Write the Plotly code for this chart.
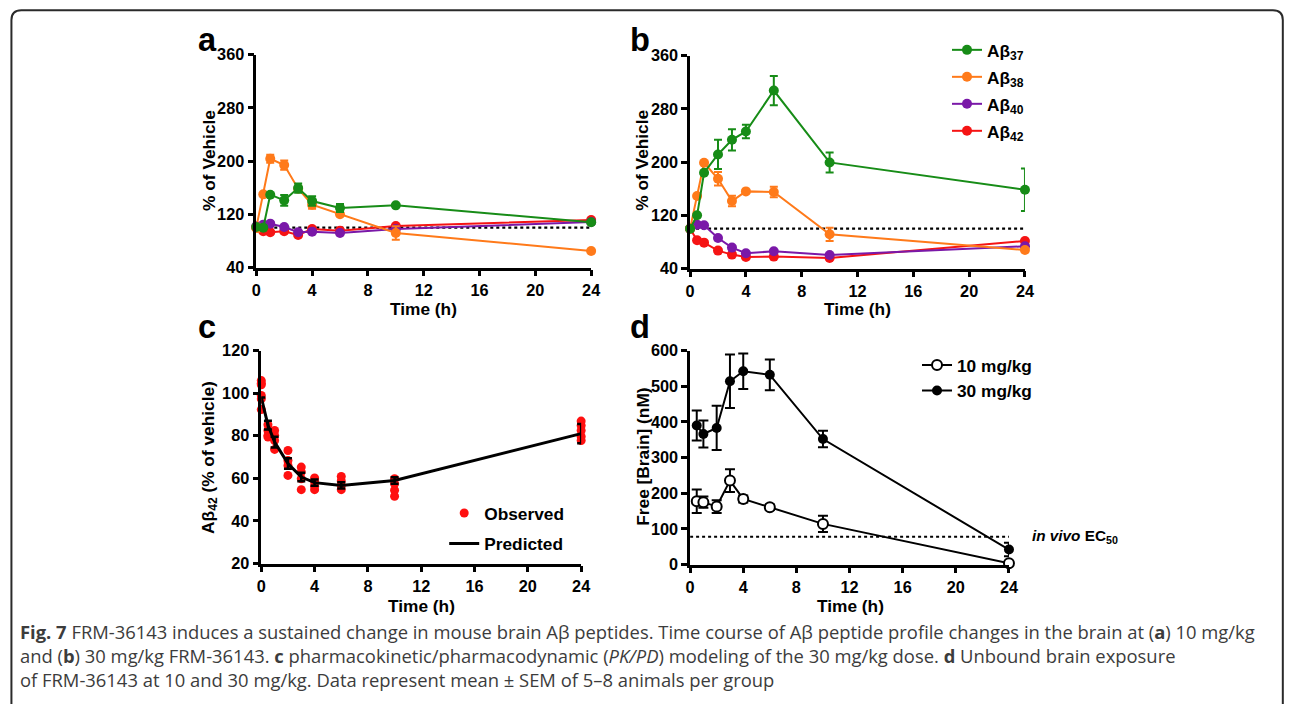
import plotly.graph_objects as go

W, H = 1293, 704

# ---------------- data ----------------
TIME = [0, 0.5, 1, 2, 3, 4, 6, 10, 24]
VEHICLE_LEVEL = 100

# Panel a: 10 mg/kg (% of vehicle)
A_AB37 = [101, 100, 149.5, 141, 159.5, 140, 129.5, 133.5, 108]
A_AB37_ERR = [0, 0, 0, 8, 7, 7, 6, 0, 0]
A_AB38 = [100, 150, 203.5, 194, 158.5, 134.5, 120, 92, 65]
A_AB38_ERR = [6, 0, 6, 7, 0, 6, 0, 10, 0]
A_AB40 = [102, 104.5, 106, 101, 93, 94, 92, 98, 108.5]
A_AB40_ERR = [0, 0, 0, 0, 0, 0, 0, 0, 0]
A_AB42 = [100, 94.5, 93, 94.5, 89, 98, 95.5, 102.5, 111.5]
A_AB42_ERR = [0, 0, 0, 0, 0, 0, 0, 0, 0]

# Panel b: 30 mg/kg (% of vehicle)
B_AB37 = [100, 120, 184, 211.5, 233.5, 246, 307.5, 199.5, 158.5]
B_AB37_ERR = [0, 0, 0, 22, 16, 10, 22, 15, 32]
B_AB38 = [100, 149, 199, 175, 141.5, 156, 155, 91.5, 68]
B_AB38_ERR = [0, 0, 0, 10, 8, 0, 8, 10, 0]
B_AB40 = [100, 106, 105, 86, 71.5, 63, 66, 60.5, 73.5]
B_AB40_ERR = [0, 0, 0, 0, 0, 0, 0, 0, 0]
B_AB42 = [100, 82.5, 79, 67, 61, 57.5, 58, 56, 81.5]
B_AB42_ERR = [0, 0, 0, 0, 0, 0, 0, 0, 0]

# Panel c: PK/PD modelling, individual observations
C_OBS_T = ([0] * 6 + [0.5] * 4 + [1] * 4 + [2] * 4 + [3] * 4 + [4] * 4 +
           [6] * 4 + [10] * 4 + [24] * 5)
C_OBS_V = [105.9, 104.7, 103.9, 98.9, 97.3, 92.3,
           85.2, 82.5, 80.2, 79.4,
           82.5, 80.2, 77.8, 73.6,
           73.1, 68.4, 66.1, 61.4,
           65.3, 63.0, 59.8, 54.7,
           60.2, 58.3, 56.3, 54.7,
           60.9, 58.8, 56.7, 54.7,
           59.8, 57.5, 54.4, 51.6,
           86.9, 84.8, 82.5, 79.7, 77.8]
C_PRED = [98, 85, 77, 67, 60.6, 58, 56.7, 59, 81]
C_PRED_ERR = [0, 2, 2.5, 2.5, 2, 1.5, 1.5, 1.5, 4.5]

# Panel d: free brain concentration (nM)
D_TIME = [0.5, 1, 2, 3, 4, 6, 10, 24]
D_10 = [177.6, 175, 162.6, 235.5, 184, 160.7, 114, 3.7]
D_10_ERR = [33, 16, 18, 32, 10, 8, 23, 3]
D_30 = [389.7, 366, 383, 514, 542, 532, 352, 42]
D_30_ERR = [42, 38, 62, 75, 50, 43, 23, 19]
EC50 = 78

COL37, COL38, COL40, COL42 = "#178c17", "#ff7a1a", "#7a18a8", "#f51414"
FONT = "Liberation Sans, Arial, sans-serif"

# mapping from target pixel positions to figure paper coordinates
AX, BX = 0.9896, 2.6
AY, BY = 0.9745, 8.4
FS = 1 / 0.982


def px(x):
    return ((x - BX) / AX) / W


def py(y):
    return 1 - ((y - BY) / AY) / H


def fs(s):
    return round(s * FS, 1)


fig = go.Figure()

series_ab = [
    ("Aβ<sub>42</sub>", COL42, 4, A_AB42, A_AB42_ERR, B_AB42, B_AB42_ERR),
    ("Aβ<sub>40</sub>", COL40, 3, A_AB40, A_AB40_ERR, B_AB40, B_AB40_ERR),
    ("Aβ<sub>38</sub>", COL38, 2, A_AB38, A_AB38_ERR, B_AB38, B_AB38_ERR),
    ("Aβ<sub>37</sub>", COL37, 1, A_AB37, A_AB37_ERR, B_AB37, B_AB37_ERR),
]

# reference lines (vehicle = 100 %)
for xa, ya in (("x", "y"), ("x2", "y2")):
    fig.add_trace(go.Scatter(x=[TIME[0], TIME[-1]], y=[VEHICLE_LEVEL] * 2,
                             mode="lines", xaxis=xa, yaxis=ya, showlegend=False,
                             line=dict(color="black", width=2.2, dash="dot"),
                             hoverinfo="skip"))

for name, col, rank, ya_v, ya_e, yb_v, yb_e in series_ab:
    fig.add_trace(go.Scatter(
        x=TIME, y=ya_v, mode="lines+markers", xaxis="x", yaxis="y",
        showlegend=False, cliponaxis=False, name=name,
        line=dict(color=col, width=2), marker=dict(color=col, size=10),
        error_y=dict(type="data", array=ya_e, color=col, thickness=2, width=4)))
    fig.add_trace(go.Scatter(
        x=TIME, y=yb_v, mode="lines+markers", xaxis="x2", yaxis="y2",
        showlegend=True, legend="legend", legendgroup=name, legendrank=rank,
        cliponaxis=False, name=name,
        line=dict(color=col, width=2), marker=dict(color=col, size=10),
        error_y=dict(type="data", array=yb_e, color=col, thickness=2, width=4)))

# panel c
fig.add_trace(go.Scatter(
    x=C_OBS_T, y=C_OBS_V, mode="markers", xaxis="x3", yaxis="y3",
    name="Observed", legend="legend2", legendgroup="obs", cliponaxis=False,
    marker=dict(color="#ff1010", size=9)))
fig.add_trace(go.Scatter(
    x=TIME, y=C_PRED, mode="lines", xaxis="x3", yaxis="y3",
    name="Predicted", legend="legend2", legendgroup="pred", cliponaxis=False,
    line=dict(color="black", width=3),
    error_y=dict(type="data", array=C_PRED_ERR, color="black", thickness=2.5, width=4)))

# panel d
fig.add_trace(go.Scatter(
    x=[0, 24], y=[EC50, EC50], mode="lines", xaxis="x4", yaxis="y4",
    showlegend=False, line=dict(color="black", width=2, dash="dot"), hoverinfo="skip"))
fig.add_trace(go.Scatter(
    x=D_TIME, y=D_10, mode="lines+markers", xaxis="x4", yaxis="y4",
    name="10 mg/kg", legend="legend3", cliponaxis=False,
    line=dict(color="black", width=2),
    marker=dict(color="white", size=10, line=dict(color="black", width=2)),
    error_y=dict(type="data", array=D_10_ERR, color="black", thickness=2, width=5)))
fig.add_trace(go.Scatter(
    x=D_TIME, y=D_30, mode="lines+markers", xaxis="x4", yaxis="y4",
    name="30 mg/kg", legend="legend3", cliponaxis=False,
    line=dict(color="black", width=2),
    marker=dict(color="black", size=10),
    error_y=dict(type="data", array=D_30_ERR, color="black", thickness=2, width=5)))

tickfont = dict(family=FONT, size=fs(16), color="black", weight="bold")


def xaxis(dom, anchor):
    return dict(domain=dom, anchor=anchor, range=[0, 24], tickvals=[0, 4, 8, 12, 16, 20, 24],
                showline=True, linecolor="black", linewidth=2.5, ticks="outside",
                ticklen=6, tickwidth=2.5, tickcolor="black", showgrid=False,
                zeroline=False, tickfont=tickfont)


def yaxis(dom, anchor, rng, vals):
    return dict(domain=dom, anchor=anchor, range=rng, tickvals=vals,
                showline=True, linecolor="black", linewidth=2.5, ticks="outside",
                ticklen=6, tickwidth=2.5, tickcolor="black", showgrid=False,
                zeroline=False, tickfont=tickfont)


legfont = dict(family=FONT, size=fs(17), color="black", weight="bold")
fig.update_layout(
    width=W, height=H, margin=dict(l=0, r=0, t=0, b=0),
    paper_bgcolor="white", plot_bgcolor="white",
    font=dict(family=FONT, color="black"),
    xaxis=xaxis([px(254), px(589)], "y"),
    yaxis=yaxis([py(267), py(54)], "x", [40, 360], [40, 120, 200, 280, 360]),
    xaxis2=xaxis([px(688), px(1023)], "y2"),
    yaxis2=yaxis([py(268), py(55)], "x2", [40, 360], [40, 120, 200, 280, 360]),
    xaxis3=xaxis([px(259), px(579)], "y3"),
    yaxis3=yaxis([py(563), py(350)], "x3", [20, 120], [20, 40, 60, 80, 100, 120]),
    xaxis4=xaxis([px(688), px(1007)], "y4"),
    yaxis4=yaxis([py(564), py(350)], "x4", [0, 600], [0, 100, 200, 300, 400, 500, 600]),
    legend=dict(x=px(945), y=py(31.5), xanchor="left", yanchor="top",
                traceorder="grouped", tracegroupgap=1.5, bgcolor="rgba(0,0,0,0)",
                font=legfont),
    legend2=dict(x=px(442), y=py(494.7), xanchor="left", yanchor="top",
                 traceorder="grouped", tracegroupgap=5, bgcolor="rgba(0,0,0,0)",
                 font=legfont),
    legend3=dict(x=px(915), y=py(346.6), xanchor="left", yanchor="top",
                 bgcolor="rgba(0,0,0,0)", font=legfont),
    showlegend=True,
)

ann = []


def add_text(text, x, y, size, angle=0, xanchor="center", color="black", family=FONT):
    ann.append(dict(text=text, x=px(x), y=py(y), xref="paper", yref="paper",
                    showarrow=False, xanchor=xanchor, yanchor="middle",
                    textangle=angle, font=dict(family=family, size=fs(size), color=color)))


# panel letters
add_text("<b>a</b>", 205, 39, 32)
add_text("<b>b</b>", 638, 39, 32)
add_text("<b>c</b>", 205, 326, 32)
add_text("<b>d</b>", 638, 326, 32)
# axis titles
add_text("<b>% of Vehicle</b>", 206, 160, 17, -90)
add_text("<b>Time (h)</b>", 421, 308, 17)
add_text("<b>% of Vehicle</b>", 639, 160, 17, -90)
add_text("<b>Time (h)</b>", 855, 308, 17)
add_text("<b>Aβ<sub>42</sub> (% of vehicle)</b>", 207, 457, 17, -90)
add_text("<b>Time (h)</b>", 419, 605, 17)
add_text("<b>Free [Brain] (nM)</b>", 640, 456, 17, -90)
add_text("<b>Time (h)</b>", 848, 605, 17)
add_text("<b><i>in vivo</i> EC<sub>50</sub></b>", 1028, 536, 15, xanchor="left")

# caption
CAP = "Open Sans, Noto Sans, sans-serif"
CAPTION = ("<b>Fig. 7</b> FRM-36143 induces a sustained change in mouse brain Aβ peptides. "
           "Time course of Aβ peptide profile changes in the brain at (<b>a</b>) 10 mg/kg<br>"
           "and (<b>b</b>) 30 mg/kg FRM-36143. <b>c</b> pharmacokinetic/pharmacodynamic "
           "(<i>PK/PD</i>) modeling of the 30 mg/kg dose. <b>d</b> Unbound brain exposure<br>"
           "of FRM-36143 at 10 and 30 mg/kg. Data represent mean ± SEM of 5–8 animals per group")
ann.append(dict(text=CAPTION, x=px(16), y=py(655), xref="paper", yref="paper",
                showarrow=False, xanchor="left", yanchor="middle", align="left",
                font=dict(family=CAP, size=18.4, color="#3c3c3c")))
fig.update_layout(annotations=ann)

# outer frame with rounded top corners (drawn in figure pixels)
r = 10
fx0, fx1, fy0, fyb = 6.5, W - 1.2, 1.2, 740


def qx(v):
    return v / W


def qy(v):
    return 1 - v / H


path = (f"M {qx(fx0)},{qy(fyb)} L {qx(fx0)},{qy(fy0 + r)} "
        f"Q {qx(fx0)},{qy(fy0)} {qx(fx0 + r)},{qy(fy0)} "
        f"L {qx(fx1 - r)},{qy(fy0)} Q {qx(fx1)},{qy(fy0)} {qx(fx1)},{qy(fy0 + r)} "
        f"L {qx(fx1)},{qy(fyb)}")
fig.add_shape(type="path", path=path, xref="paper", yref="paper",
              line=dict(color="#2a2a2a", width=2))

fig.write_html("out.html", config={"displayModeBar": False},
               post_script="document.body.style.margin='0';"
                           "document.body.style.overflow='hidden';")
